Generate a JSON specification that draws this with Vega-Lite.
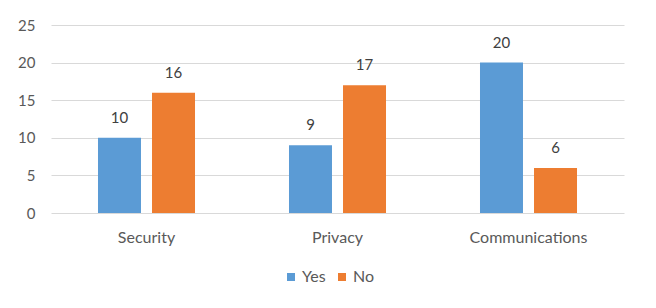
{
  "$schema": "https://vega.github.io/schema/vega-lite/v6.json",
  "autosize": {"type": "none"},
  "width": 573,
  "height": 188,
  "padding": {"left": 51, "top": 25, "right": 32, "bottom": 95},
  "background": "white",
  "config": {
    "font": "Lato",
    "view": {"stroke": null},
    "axis": {"labelFont": "Lato", "labelColor": "#595959", "labelFontSize": 15, "domain": false, "ticks": false, "title": null},
    "legend": {"labelFont": "Lato", "labelColor": "#595959", "labelFontSize": 15}
  },
  "data": {
    "values": [
      {"topic": "Security", "answer": "Yes", "count": 10},
      {"topic": "Security", "answer": "No", "count": 16},
      {"topic": "Privacy", "answer": "Yes", "count": 9},
      {"topic": "Privacy", "answer": "No", "count": 17},
      {"topic": "Communications", "answer": "Yes", "count": 20},
      {"topic": "Communications", "answer": "No", "count": 6}
    ]
  },
  "encoding": {
    "x": {"field": "topic", "type": "nominal", "sort": ["Security", "Privacy", "Communications"], "scale": {"paddingInner": 0, "paddingOuter": 0}, "axis": {"labelAngle": 0, "labelPadding": 16, "grid": false, "labelFontSize": 16}},
    "xOffset": {"field": "answer", "type": "nominal", "sort": ["Yes", "No"], "scale": {"paddingInner": 0.204, "paddingOuter": 0.87}},
    "y": {"field": "count", "type": "quantitative", "scale": {"domain": [0, 25]}, "axis": {"values": [0, 5, 10, 15, 20, 25], "gridColor": "#D9D9D9", "labelPadding": 16}}
  },
  "layer": [
    {
      "mark": {"type": "bar"},
      "encoding": {
        "color": {"field": "answer", "type": "nominal", "sort": ["Yes", "No"], "scale": {"domain": ["Yes", "No"], "range": ["#5B9BD5", "#ED7D31"]}, "legend": {"title": null, "orient": "none", "legendX": 232, "legendY": 244, "direction": "horizontal", "symbolType": "square", "symbolSize": 64, "symbolStrokeWidth": 0, "columnPadding": 8, "labelOffset": 3, "labelFontSize": 16}}
      }
    },
    {
      "mark": {"type": "text", "dy": -20, "fontSize": 15, "color": "#404040", "font": "Lato"},
      "encoding": {"text": {"field": "count", "type": "quantitative"}}
    }
  ]
}
